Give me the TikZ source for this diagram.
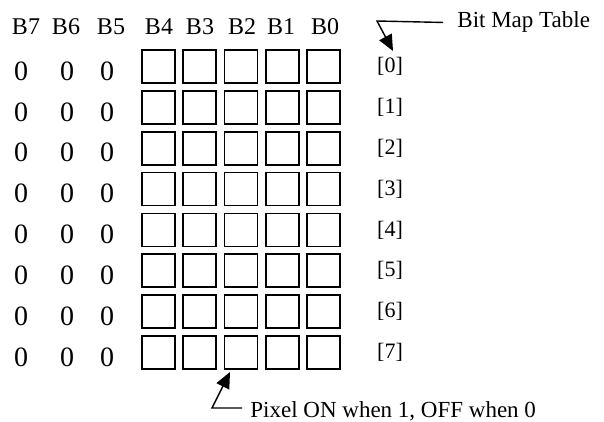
\documentclass[tikz,border=0pt]{standalone}
\usepackage{fontspec}
\setmainfont{Liberation Serif}
\usetikzlibrary{arrows.meta, positioning}

\begin{document}
\begin{tikzpicture}[
    x=0.5pt, y=-0.5pt,
    bitbox/.style  = {draw, line width=0.9pt, minimum size=16.5pt, inner sep=0pt},
    head/.style    = {font=\fontsize{12}{14}\selectfont, inner sep=0pt},
    fixbit/.style  = {font=\fontsize{14}{16}\selectfont, inner sep=0pt},
    idx/.style     = {font=\fontsize{11}{13}\selectfont, inner sep=0pt},
    note/.style    = {font=\fontsize{11.5}{14}\selectfont, inner sep=0pt, anchor=base west},
    pointer/.style = {-{Triangle[length=8pt, width=7pt]}, line width=0.7pt}
]
\useasboundingbox (0,0) rectangle (604,422);
% column heads
\foreach \t/\x in {B7/26, B6/66, B5/111, B4/159, B3/200, B2/242, B1/281, B0/325}
  \node[head] (h\t) at (\x,26.5) {\t};
% rows of the table
\foreach \r [evaluate=\r as \y using 66.5+40.86*\r] in {0,...,7} {
  \foreach \c/\x in {7/21, 6/67, 5/107}
    \node[fixbit] (z\r\c) at (\x,\y+4.5) {0};
  \foreach \c [evaluate=\c as \x using 158.5+41.25*\c] in {0,...,4}
    \node[bitbox] (c\r\c) at (\x,\y) {};
  \node[idx] (i\r) at (390,\y) {[\r]};
}
% notes
\node[note] (bmt) at (457,28) {Bit Map Table};
\node[note] (pix) at (250,417) {Pixel ON when 1, OFF when 0};
\coordinate (bend1) at (377,21);
\coordinate (tip1)  at (393,51);
\coordinate (bend2) at (212,408);
\coordinate (tip2)  at (230,372);
\draw[pointer] ([xshift=-7pt]bmt.west) -- (bend1) -- (tip1);
\draw[pointer] ([xshift=-4pt]pix.west |- bend2) -- (bend2) -- (tip2);
\end{tikzpicture}
\end{document}
